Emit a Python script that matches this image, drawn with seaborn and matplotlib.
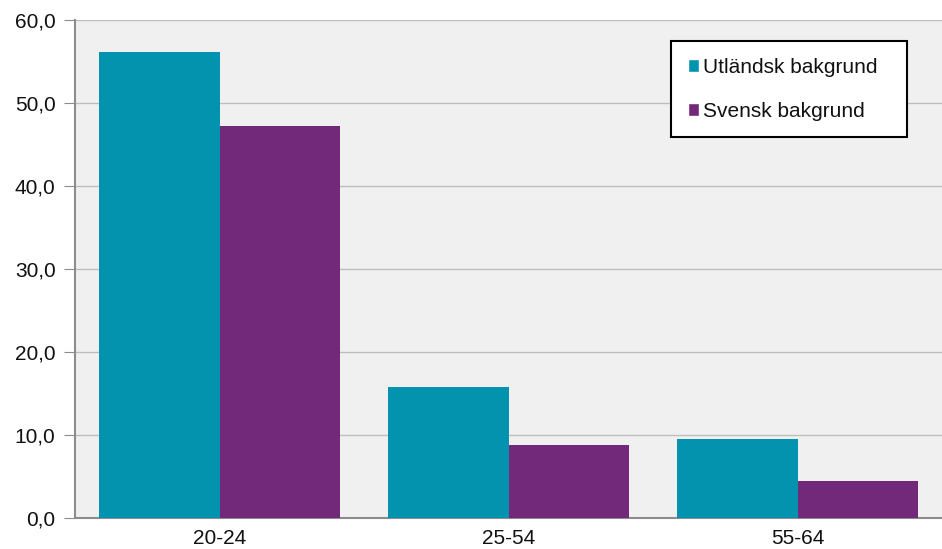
import seaborn as sns
import matplotlib.pyplot as plt
import pandas as pd
from matplotlib.patches import Patch

# data
ages = ['20-24', '25-54', '55-64']
utlandsk = [56.2, 15.8, 9.5]
svensk = [47.2, 8.8, 4.5]
series = ['Utländsk bakgrund', 'Svensk bakgrund']
colors = ['#0393AE', '#72297A']

df = pd.DataFrame({
    'age': ages * 2,
    'value': utlandsk + svensk,
    'group': [series[0]] * 3 + [series[1]] * 3,
})

sns.set_style('white')
plt.rcParams['font.family'] = ['Liberation Sans', 'DejaVu Sans']
plt.rcParams['text.color'] = '#111111'

fig = plt.figure(figsize=(9.42, 5.49), dpi=100)
ax = fig.add_axes([75 / 942, 31 / 549, 867 / 942, 498 / 549])
ax.set_facecolor('#f0f0f0')

sns.barplot(data=df, x='age', y='value', hue='group', palette=colors,
            width=0.837, saturation=1, ax=ax, legend=False, zorder=3,
            linewidth=0)

ax.set_ylim(0, 60)
ax.set_yticks(range(0, 61, 10))
ax.set_yticklabels([f'{v},0' for v in range(0, 61, 10)])
ax.yaxis.grid(True, color='#bdbdbd', linewidth=1, zorder=0)
ax.set_axisbelow(True)
ax.set_xlabel('')
ax.set_ylabel('')

for s in ['top', 'right']:
    ax.spines[s].set_visible(False)
ax.spines['left'].set_color('#8c8c8c')
ax.spines['bottom'].set_color('#8c8c8c')
ax.spines['left'].set_linewidth(1.5)
ax.spines['bottom'].set_linewidth(1.5)
ax.tick_params(axis='y', length=8, color='#8c8c8c', labelsize=15, pad=6, left=True,
               labelcolor='#111111')
ax.tick_params(axis='x', length=0, labelsize=15, pad=8, labelcolor='#111111')

# legend box stretched to the reference width
handles = [Patch(facecolor=c, label=l) for c, l in zip(colors, series)]
leg = ax.legend(handles=handles, loc='upper left', mode='expand',
                bbox_to_anchor=((671 - 75) / 867, (518 - 137) / 498, 236 / 867, 96 / 498),
                frameon=True, fancybox=False, edgecolor='black', fontsize=15,
                handlelength=0.55, handleheight=0.55, handletextpad=0.2,
                labelspacing=1.2, borderpad=0.8, borderaxespad=0)
leg.get_frame().set_linewidth(1.5)
leg.get_frame().set_facecolor('white')
leg.get_frame().set_alpha(1)

fig.savefig('out.png', dpi=100)
